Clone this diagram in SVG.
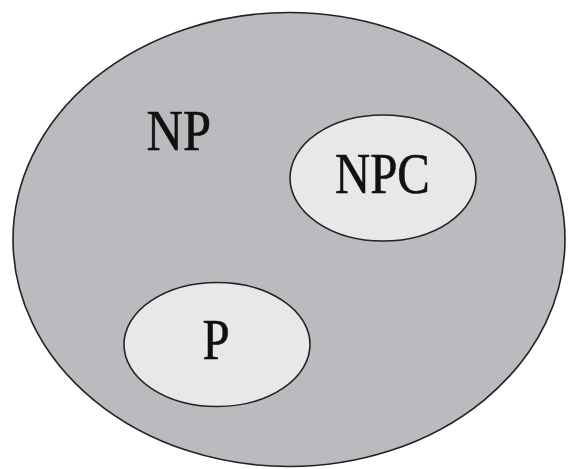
<svg xmlns="http://www.w3.org/2000/svg" width="568" height="469" viewBox="0 0 568 469">
<style>
.outer{fill:#babbbf;stroke:#222;stroke-width:1.6}
.inner{fill:#e7e8e8;stroke:#222;stroke-width:1.6}
.lbl{font-family:'Liberation Serif','Times New Roman',serif;font-size:56px;fill:#111;stroke:#111;stroke-width:0.6}
</style>
<rect width="568" height="469" fill="#ffffff"/>
<g id="NP">
<ellipse class="outer" cx="289" cy="239.5" rx="276" ry="227"/>
<text class="lbl" transform="translate(146.5 150) scale(0.9 1)">NP</text>
</g>
<g id="NPC">
<ellipse class="inner" cx="383" cy="178" rx="93" ry="63"/>
<text class="lbl" transform="translate(335 192.5) scale(0.87 1)">NPC</text>
</g>
<g id="P">
<ellipse class="inner" cx="217" cy="344.5" rx="93" ry="62"/>
<text class="lbl" transform="translate(202.5 359) scale(0.87 1)">P</text>
</g>
<g id="connectors"/>
</svg>
